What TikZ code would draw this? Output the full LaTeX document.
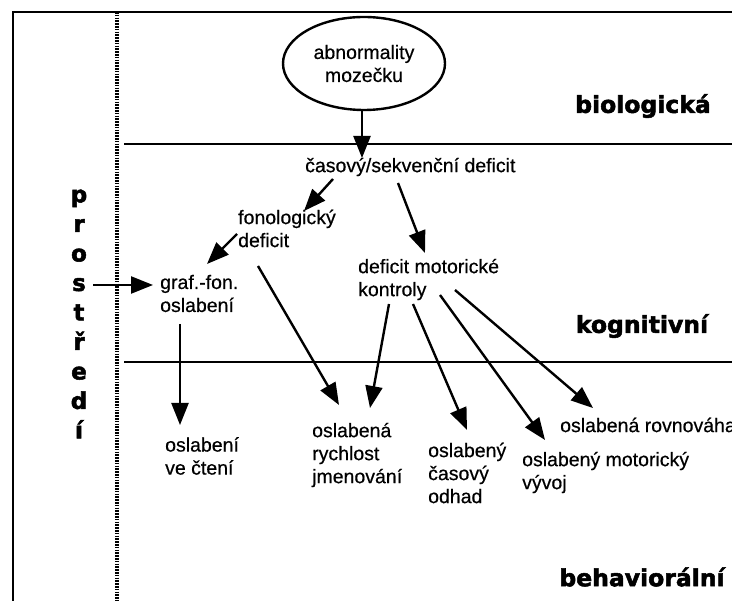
\documentclass[tikz,border=0pt]{standalone}
\usepackage{fontspec}
\setmainfont{Liberation Sans}[FakeBold=0.6]
\newfontfamily\bodyfont{Liberation Sans}[UprightFeatures={FakeBold=0.5}]
\newfontfamily\heavyfont{DejaVu Sans Bold}[FakeBold=2.2]
\usetikzlibrary{shapes.geometric,arrows.meta}

\begin{document}
\begin{tikzpicture}[x=1pt,y=-1pt,
  txt/.style={font=\bodyfont\fontsize{19.5}{23}\selectfont, inner sep=0pt, align=left, anchor=west},
  level/.style={font=\heavyfont\fontsize{23.5}{28}\selectfont, inner sep=0pt},
  envtxt/.style={font=\heavyfont\fontsize{23}{29.5}\selectfont, inner sep=0pt, align=center},
  rule/.style={line width=2.2pt},
  arr/.style={line width=2.4pt, -{Triangle[length=22pt,width=17pt]}}
]
\useasboundingbox (0,0) rectangle (732,601);

% frame and level dividers
\draw[rule] (13,601) -- (13,12) -- (732,12);
\draw[line width=3.4pt, dash pattern=on 1.6pt off 1.2pt] (117,12) -- (117,601);
\draw[rule] (124,144) -- (732,144);
\draw[rule] (124,362) -- (732,362);

% level labels
\node[level] (bio) at (643,106) {biologická};
\node[level] (kog) at (642,326) {kognitivní};
\node[level] (beh) at (642,577) {behaviorální};

% environment, written vertically
\node[envtxt] (env) at (79,314) {p\\r\\o\\s\\t\\ř\\e\\d\\í};
\coordinate (envout) at (93,285);

% nodes
\node[draw, ellipse, line width=2.4pt, minimum width=162pt, minimum height=93pt,
      align=center, inner sep=0pt, font=\bodyfont\fontsize{19.5}{23}\selectfont]
      (ell) at (364,63.5) {abnormality\\mozečku};
\node[txt] (cas)   at (305,167)   {časový/sekvenční deficit};
\node[txt] (fon)   at (238,228.5) {fonologický\\deficit};
\node[txt] (graf)  at (160,293.5) {graf.-fon.\\oslabení};
\node[txt] (mot)   at (358,279.5) {deficit motorické\\kontroly};
\node[txt] (cteni) at (165,456)   {oslabení\\ve čtení};
\node[txt] (jmen)  at (312,455)   {oslabená\\rychlost\\jmenování};
\node[txt] (odhad) at (428,473)   {oslabený\\časový\\odhad};
\node[txt] (vyvoj) at (522,472.5) {oslabený motorický\\vývoj};
\node[txt] (rovn)  at (560,425)   {oslabená rovnováha};

% connectors
\draw[arr] ([xshift=-2]ell.south) -- ([shift={(57,-9)}]cas.west);
\draw[arr] ([shift={(28,12)}]cas.west) -- ([shift={(66,-17.5)}]fon.west);
\draw[arr] ([shift={(93,16)}]cas.west) -- ([shift={(67,-26.5)}]mot.west);
\draw[arr] ([shift={(-1,5.5)}]fon.west) -- ([shift={(47,-29.5)}]graf.west);
\draw[arr] ([shift={(20,37.5)}]fon.west) -- ([shift={(27,-50)}]jmen.west);
\draw[arr] ([shift={(31,24.5)}]mot.west) -- ([shift={(58,-47)}]jmen.west);
\draw[arr] ([shift={(55,24.5)}]mot.west) -- ([shift={(39,-43)}]odhad.west);
\draw[arr] ([shift={(82,15.5)}]mot.west) -- ([shift={(23,-32.5)}]vyvoj.west);
\draw[arr] ([shift={(97,10.5)}]mot.west) -- ([shift={(33,-17)}]rovn.west);
\draw[arr] ([shift={(20,30.5)}]graf.west) -- ([shift={(15,-31)}]cteni.west);
\draw[arr] (envout) -- ([shift={(-7,-8.5)}]graf.west);
\end{tikzpicture}
\end{document}
